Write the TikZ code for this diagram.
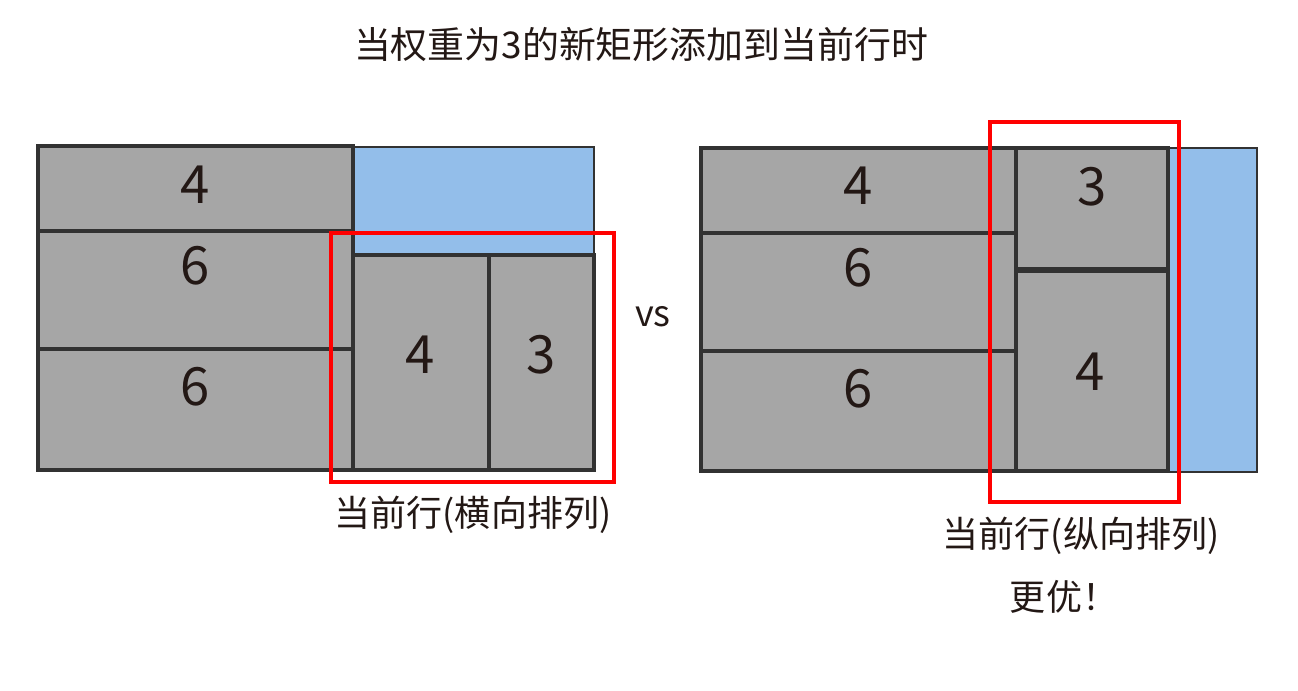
\documentclass[tikz,border=0pt]{standalone}
\usepackage{fontspec}
\setmainfont{Noto Sans CJK SC}
\definecolor{boxgray}{RGB}{166,166,166}
\definecolor{freeblue}{RGB}{147,190,234}
\definecolor{ink}{RGB}{35,24,21}
\definecolor{edge}{RGB}{50,50,50}

\begin{document}
\begin{tikzpicture}[x=0.02cm,y=-0.02cm,
        cell/.style={fill=boxgray,draw=edge,line width=2pt},
        free/.style={fill=freeblue,draw=edge,line width=0.6pt},
        currow/.style={draw=red,line width=2pt},
        num/.style={font=\fontsize{30}{30}\selectfont,text=ink},
        note/.style={font=\fontsize{20.5}{20.5}\selectfont,text=ink}]
            \useasboundingbox (0,0) rectangle (1298,690);
            \node[note,font=\fontsize{21}{21}\selectfont] (title) at (641,44) {当权重为3的新矩形添加到当前行时};

            % horizontal placement
            \draw[free] (353,147) rectangle (594,255);
            \draw[cell] (38,146) rectangle (353,231);
            \draw[cell] (38,231) rectangle (353,349);
            \draw[cell] (38,349) rectangle (353,470);
            \draw[cell] (353,255) rectangle (489,470);
            \draw[cell] (489,255) rectangle (594,470);
            \draw[currow] (331,233) rectangle (614,482);
            \node[num] (la) at (195,185) {4};
            \node[num] (lb) at (195,266) {6};
            \node[num] (lc) at (195,387) {6};
            \node[num] (ld) at (420,355) {4};
            \node[num] (le) at (541,355) {3};
            \node[note] (lrow) at (473,515) {当前行(横向排列)};

            \node[note] (vs) at (653,317) {vs};

            % vertical placement
            \draw[free] (1168,148) rectangle (1257,472);
            \draw[cell] (701,148) rectangle (1016,233);
            \draw[cell] (701,233) rectangle (1016,351);
            \draw[cell] (701,351) rectangle (1016,471);
            \draw[cell] (1016,148) rectangle (1168,270);
            \draw[cell] (1016,270) rectangle (1168,471);
            \draw[edge,line width=3pt] (1016,270) -- (1168,270);
            \draw[currow] (990,122) rectangle (1179,502);
            \node[num] (ra) at (858,186) {4};
            \node[num] (rb) at (858,268) {6};
            \node[num] (rc) at (858,389) {6};
            \node[num] (rd) at (1092,187) {3};
            \node[num] (re) at (1090,372) {4};
            \node[note] (rrow) at (1081,536) {当前行(纵向排列)};
            \node[note] (best) at (1064,597) {更优！};
\end{tikzpicture}
\end{document}
